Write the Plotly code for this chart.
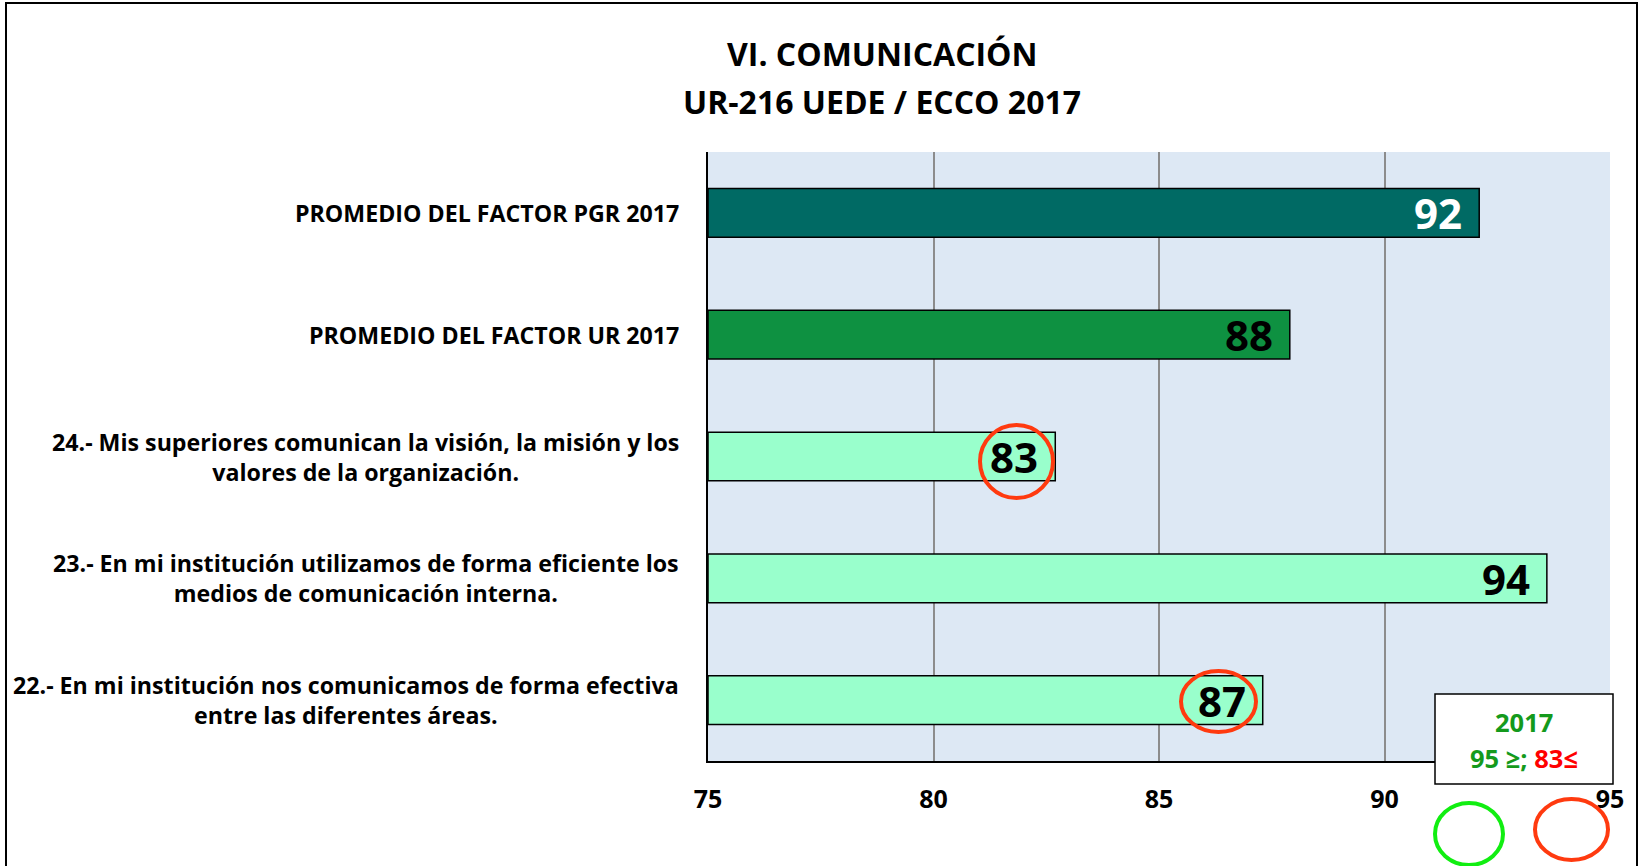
import plotly.graph_objects as go

# ---- data (top to bottom) ----
categories = [
    "PROMEDIO DEL FACTOR PGR 2017",
    "PROMEDIO DEL FACTOR UR 2017",
    "24.- Mis superiores comunican la visión, la misión y los<br>valores de la organización.",
    "23.- En mi institución utilizamos de forma eficiente los<br>medios de comunicación interna.",
    "22.- En mi institución nos comunicamos de forma efectiva<br>entre las diferentes áreas.",
]
values = [92.1, 87.9, 82.7, 93.6, 87.3]
value_labels = ["92", "88", "83", "94", "87"]
bar_colors = ["#006A64", "#0E9141", "#99FFCC", "#99FFCC", "#99FFCC"]
label_colors = ["white", "black", "black", "black", "black"]
x_ticks = [75, 80, 85, 90, 95]
title_lines = ["VI. COMUNICACIÓN", "UR-216 UEDE / ECCO 2017"]
legend_year = "2017"

W, H = 1640, 866
L, R, T, B = 708, 30, 152, 105
PW, PH = W - L - R, H - T - B
FONT = "'Open Sans', Lato, sans-serif"


def px(xp):
    return (xp - L) / PW


def py(yp):
    return (H - B - yp) / PH


fig = go.Figure()
fig.add_trace(go.Bar(
    y=categories, x=[v - x_ticks[0] for v in values], base=x_ticks[0],
    orientation="h", width=0.4,
    marker=dict(color=bar_colors, line=dict(color="black", width=1.5)),
    hoverinfo="skip",
))

annotations = []
# value labels
for c, v, t, col in zip(categories, values, value_labels, label_colors):
    annotations.append(dict(
        x=v, y=c, xref="x", yref="y", text=f"<b>{t}</b>", showarrow=False,
        xanchor="right", yanchor="middle", xshift=-15,
        font=dict(family=FONT, size=42, color=col),
    ))
# category labels (centered lines, right-aligned block)
for c in categories:
    annotations.append(dict(
        x=px(681), y=c, xref="paper", yref="y", text=f"<b>{c}</b>",
        showarrow=False, xanchor="right", yanchor="middle", align="center",
        font=dict(family=FONT, size=23.2, color="black"),
    ))

# titles
for ln, yy in zip(title_lines, [54, 101]):
    annotations.append(dict(x=px(882), y=py(yy), xref="paper", yref="paper",
                            text=f"<b>{ln}</b>", showarrow=False,
                            xanchor="center", yanchor="middle",
                            font=dict(family=FONT, size=32, color="black")))
# legend box text
annotations.append(dict(x=px(1524), y=py(722), xref="paper", yref="paper",
                        text=f"<b>{legend_year}</b>", showarrow=False,
                        xanchor="center", yanchor="middle",
                        font=dict(family=FONT, size=25.5, color="#149A1C")))
annotations.append(dict(x=px(1524), y=py(758), xref="paper", yref="paper",
                        text="<b><span style='color:#149A1C'>95 ≥;</span> <span style='color:#FF0000'>83≤</span></b>",
                        showarrow=False, xanchor="center", yanchor="middle",
                        font=dict(family=FONT, size=25.5, color="#149A1C")))

shapes = [
    # outer frame
    dict(type="rect", xref="paper", yref="paper", x0=px(6), x1=px(1637),
         y0=py(900), y1=py(3), line=dict(color="black", width=2), layer="above"),
    # legend box
    dict(type="rect", xref="paper", yref="paper", x0=px(1435), x1=px(1613),
         y0=py(784), y1=py(694), line=dict(color="black", width=1.5),
         fillcolor="white", layer="above"),
    # red circles around low values
    dict(type="circle", xref="paper", yref="paper", x0=px(980), x1=px(1053),
         y0=py(498), y1=py(425), line=dict(color="#FF3A0F", width=4), layer="above"),
    dict(type="circle", xref="paper", yref="paper", x0=px(1181), x1=px(1256),
         y0=py(732), y1=py(671), line=dict(color="#FF3A0F", width=4), layer="above"),
    # legend circles
    dict(type="circle", xref="paper", yref="paper", x0=px(1435), x1=px(1503),
         y0=py(865), y1=py(803), line=dict(color="#11EE11", width=4), layer="above"),
    dict(type="circle", xref="paper", yref="paper", x0=px(1535), x1=px(1608),
         y0=py(860), y1=py(799), line=dict(color="#FF3A0F", width=4), layer="above"),
]

fig.update_layout(
    width=W, height=H, margin=dict(l=L, r=R, t=T, b=B),
    paper_bgcolor="white", plot_bgcolor="#DDE8F4",
    showlegend=False,
    annotations=annotations, shapes=shapes,
    xaxis=dict(range=[x_ticks[0], x_ticks[-1]], tickvals=x_ticks,
               ticktext=[f"<b>{t}</b>" for t in x_ticks],
               showgrid=True, gridcolor="#8C8C8C", gridwidth=1.5,
               showline=True, linecolor="black", linewidth=2,
               ticks="outside", ticklen=15, tickcolor="rgba(0,0,0,0)",
               tickfont=dict(family=FONT, size=25, color="black"),
               zeroline=False, fixedrange=True),
    yaxis=dict(categoryorder="array", categoryarray=categories,
               autorange="reversed", showticklabels=False, showgrid=False,
               showline=True, linecolor="black", linewidth=2,
               zeroline=False, fixedrange=True),
)

fig.write_html("out.html", config={"displayModeBar": False},
               post_script="document.body.style.margin='0';document.body.style.overflow='hidden';")
